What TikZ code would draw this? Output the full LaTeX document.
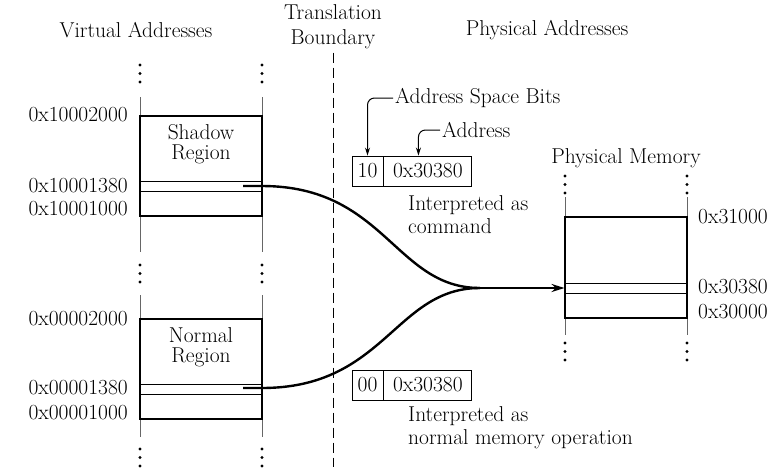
\documentclass[tikz,border=0pt]{standalone}
\usetikzlibrary{arrows.meta, positioning}

\newcommand{\dotstack}[2]{\foreach \dy in {0,8.5,17} \fill (#1,#2+\dy) circle (1.7pt);}

\begin{document}
\begin{tikzpicture}[x=1pt, y=-1pt,
    every node/.style={font=\fontsize{21.5}{23}\selectfont},
    membox/.style={draw, line width=2.2pt, minimum width=122pt,
                   minimum height=100pt, inner sep=0pt},
    slot/.style={draw, line width=0.9pt, minimum width=122pt,
                 minimum height=10pt, inner sep=0pt},
    rail/.style={draw=black!60, line width=1pt},
    addr/.style={inner sep=0pt},
    field/.style={draw, line width=0.9pt, minimum height=30pt,
                  inner sep=1pt},
    note/.style={align=left, anchor=west, inner sep=2pt},
    link/.style={line width=2.4pt},
    callout/.style={line width=1pt, rounded corners=7pt,
                    -{Stealth[length=8pt, width=5pt]}},
  ]
  \useasboundingbox (0,0) rectangle (780,467);

  % headings
  \node (virt)  at (136,30) {Virtual Addresses};
  \node[align=center, font=\fontsize{21.5}{25}\selectfont] (bound) at (333,27)
       {Translation\\Boundary};
  \node (phys)  at (547,30) {Physical Addresses};
  \coordinate (floor) at (333,467);
  \draw[line width=1pt, dash pattern=on 10pt off 5pt] (bound.south) -- (floor);

  % virtual side rails and dots
  \foreach \x in {140,262} {
    \draw[rail] (\x,97) -- (\x,252);
    \draw[rail] (\x,295) -- (\x,437);
    \dotstack{\x}{65}
    \dotstack{\x}{265}
    \dotstack{\x}{449}
  }
  % physical side rails and dots
  \foreach \x in {565,687} {
    \draw[rail] (\x,197) -- (\x,335);
    \dotstack{\x}{176}
    \dotstack{\x}{343}
  }

  % shadow region
  \node[slot]   (sslot)  at (201,186) {};
  \node[membox] (shadow) at (201,166) {};
  \node[align=center, inner sep=0pt, font=\fontsize{21.5}{20.5}\selectfont,
        below=9pt of shadow.north] (stext) {Shadow\\Region};
  \node[addr, anchor=east] (s2000) at (128,115) {0x10002000};
  \node[addr, anchor=east] (s1380) at (128,186) {0x10001380};
  \node[addr, anchor=east] (s1000) at (128,209) {0x10001000};

  % normal region
  \node[slot]   (nslot)  at (201,389) {};
  \node[membox] (normal) at (201,369) {};
  \node[align=center, inner sep=0pt, font=\fontsize{21.5}{20.5}\selectfont,
        below=9pt of normal.north] (ntext) {Normal\\Region};
  \node[addr, anchor=east] (n2000) at (128,319) {0x00002000};
  \node[addr, anchor=east] (n1380) at (128,388) {0x00001380};
  \node[addr, anchor=east] (n1000) at (128,413) {0x00001000};

  % physical memory
  \node (pmtitle) at (626,158) {Physical Memory};
  \node[slot]   (pslot) at (626,288) {};
  \node[membox, minimum height=101pt] (pmem) at (626,267.5) {};
  \node[addr, anchor=west] (p1000) at (698,217) {0x31000};
  \node[addr, anchor=west] (p0380) at (698,287) {0x30380};
  \node[addr, anchor=west] (p0000) at (698,312) {0x30000};

  % address formats
  \node[field, minimum width=31pt] (bitsA) at (367.5,171) {10};
  \node[field, minimum width=88pt, right=0pt of bitsA] (adrA) {0x30380};
  \node[field, minimum width=31pt] (bitsB) at (367.5,385) {00};
  \node[field, minimum width=88pt, right=0pt of bitsB] (adrB) {0x30380};

  \node[note] (spacebits) at (393,98)  {Address Space Bits};
  \node[note] (address)   at (440,130) {Address};
  \draw[callout] (spacebits.west) -| (bitsA.north);
  \draw[callout] (address.west) -| ([xshift=35pt]adrA.north west);

  \node[note] (cmdnote) at (406,215) {Interpreted as\\command};
  \node[note] (memnote) at (406,428) {Interpreted as\\normal memory operation};

  % mapping curves
  \coordinate (fromS) at (243,186);
  \coordinate (fromN) at (243,388);
  \coordinate (merge) at (480,288);
  \draw[link] (fromS) -- ++(19,0) .. controls +(123,0) and +(-85,0) .. (merge);
  \draw[link] (fromN) -- ++(19,0) .. controls +(123,0) and +(-85,0) .. (merge);
  \draw[link, -{Stealth[length=13pt, width=8pt]}] (merge) -- (pslot.west);
\end{tikzpicture}
\end{document}
